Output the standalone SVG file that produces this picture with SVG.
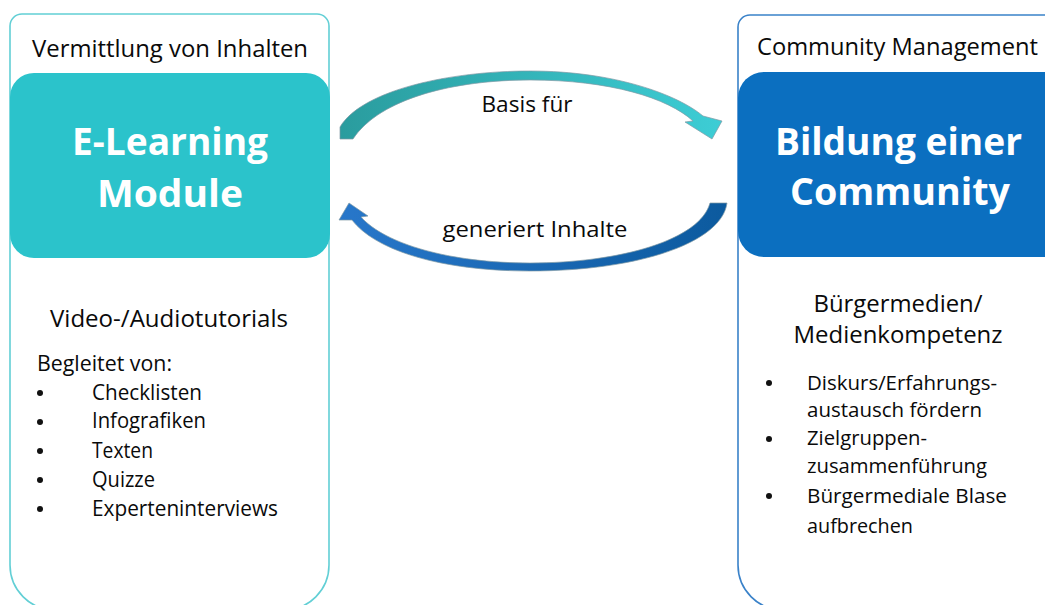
<svg xmlns="http://www.w3.org/2000/svg" width="1045" height="605" viewBox="0 0 1045 605">
<defs>
<linearGradient id="gTeal" x1="0" y1="0" x2="1" y2="0">
<stop offset="0" stop-color="#2A9C9E"/>
<stop offset="1" stop-color="#3DCDD5"/>
</linearGradient>
<linearGradient id="gBlue" x1="1" y1="0" x2="0" y2="0">
<stop offset="0" stop-color="#0C5A9E"/>
<stop offset="1" stop-color="#2877CA"/>
</linearGradient>
<style>
text{font-family:"Open Sans","Liberation Sans",sans-serif;fill:#0a0a0a;}
.head{font-size:23px;}
.title{font-size:38px;font-weight:bold;fill:#fff;}
.body{font-size:22px;}
.list{font-size:20px;}
.lbl{font-size:22px;}
.outerL{fill:#fff;stroke:#62CFD5;stroke-width:1.6;}
.outerR{fill:#fff;stroke:#3A82C9;stroke-width:1.6;}
.arrow{stroke:#7f9aa5;stroke-width:0.7;}
</style>
</defs>
<rect width="1045" height="605" fill="#fff"/>

<g id="elearning">
<path class="outerL" d="M10,26 A12,12 0 0 1 22,14 L317,14 A12,12 0 0 1 329,26 L329,565 A45,45 0 0 1 284,610 L55,610 A45,45 0 0 1 10,565 Z"/>
<text class="head" x="170" y="57" text-anchor="middle" textLength="276" lengthAdjust="spacingAndGlyphs">Vermittlung von Inhalten</text>
<rect x="10" y="73" width="320" height="185" rx="24" fill="#2BC3CB"/>
<text class="title" x="170" y="155" text-anchor="middle" textLength="196" lengthAdjust="spacingAndGlyphs">E-Learning</text>
<text class="title" x="170" y="207" text-anchor="middle" textLength="146" lengthAdjust="spacingAndGlyphs">Module</text>
<text class="body" x="169" y="327" text-anchor="middle" textLength="238" lengthAdjust="spacingAndGlyphs" style="font-size:23px">Video-/Audiotutorials</text>
<text class="body" x="37" y="371" textLength="135" lengthAdjust="spacingAndGlyphs">Begleitet von:</text>
<g fill="#111">
<circle cx="40" cy="393" r="3"/>
<circle cx="40" cy="422" r="3"/>
<circle cx="40" cy="451" r="3"/>
<circle cx="40" cy="480" r="3"/>
<circle cx="40" cy="509" r="3"/>
</g>
<text class="body" x="92" y="400" textLength="110" lengthAdjust="spacingAndGlyphs">Checklisten</text>
<text class="body" x="92" y="428" textLength="114" lengthAdjust="spacingAndGlyphs">Infografiken</text>
<text class="body" x="92" y="458" textLength="61" lengthAdjust="spacingAndGlyphs">Texten</text>
<text class="body" x="92" y="487" textLength="63" lengthAdjust="spacingAndGlyphs">Quizze</text>
<text class="body" x="92" y="516" textLength="186" lengthAdjust="spacingAndGlyphs">Experteninterviews</text>
</g>

<g id="community">
<path class="outerR" d="M738,27 A12,12 0 0 1 750,15 L1080,15 L1080,610 L783,610 A45,45 0 0 1 738,565 Z"/>
<text class="head" x="757" y="55" textLength="281" lengthAdjust="spacingAndGlyphs">Community Management</text>
<rect x="738" y="72" width="340" height="185" rx="26" fill="#0B6FC0"/>
<text class="title" x="775" y="155" textLength="247" lengthAdjust="spacingAndGlyphs">Bildung einer</text>
<text class="title" x="790" y="205" textLength="220" lengthAdjust="spacingAndGlyphs">Community</text>
<text class="body" x="898" y="312" text-anchor="middle" textLength="169" lengthAdjust="spacingAndGlyphs" style="font-size:23px">Bürgermedien/</text>
<text class="body" x="898" y="343" text-anchor="middle" textLength="209" lengthAdjust="spacingAndGlyphs" style="font-size:23px">Medienkompetenz</text>
<g fill="#111">
<circle cx="769" cy="383" r="3"/>
<circle cx="769" cy="439" r="3"/>
<circle cx="769" cy="496" r="3"/>
</g>
<text class="list" x="807" y="390" textLength="190" lengthAdjust="spacingAndGlyphs">Diskurs/Erfahrungs-</text>
<text class="list" x="807" y="417" textLength="175" lengthAdjust="spacingAndGlyphs">austausch fördern</text>
<text class="list" x="807" y="445" textLength="120" lengthAdjust="spacingAndGlyphs">Zielgruppen-</text>
<text class="list" x="807" y="473" textLength="180" lengthAdjust="spacingAndGlyphs">zusammenführung</text>
<text class="list" x="807" y="503" textLength="200" lengthAdjust="spacingAndGlyphs">Bürgermediale Blase</text>
<text class="list" x="807" y="533" textLength="106" lengthAdjust="spacingAndGlyphs">aufbrechen</text>
</g>

<g id="connectors">
<g id="arrow-basis">
<path class="arrow" fill="url(#gTeal)" d="M340,139 L340,127 C362,90 450,71 530,71 C615,71 678,95 703,116 L722,121 L712,139 L685,122 L693,121 C668,98 610,80 530,80 C455,80 380,98 353,139 Z"/>
<text class="lbl" x="527" y="112" text-anchor="middle" textLength="91" lengthAdjust="spacingAndGlyphs">Basis für</text>
</g>
<g id="arrow-generiert">
<path class="arrow" fill="url(#gBlue)" d="M710,203 L727,203 C722,242 640,271 530,271 C440,271 375,250 352,220 L339,220 L349,203 L368,216 L361,217 C385,244 450,263 530,263 C620,263 700,240 710,203 Z"/>
<text class="lbl" x="535" y="237" text-anchor="middle" textLength="185" lengthAdjust="spacingAndGlyphs">generiert Inhalte</text>
</g>
</g>
</svg>
